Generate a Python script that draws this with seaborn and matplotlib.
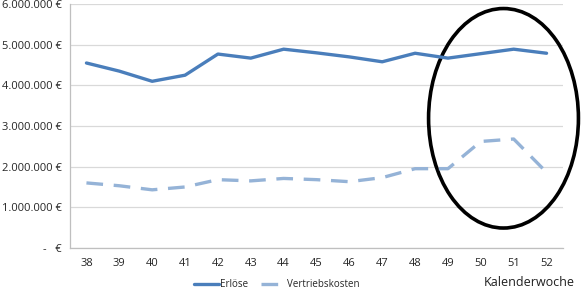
import numpy as np
import pandas as pd
import matplotlib
matplotlib.use("Agg")
import matplotlib.pyplot as plt
import seaborn as sns
from matplotlib.patches import Ellipse
from matplotlib.ticker import FuncFormatter, FixedLocator

# chart data
weeks = [38, 39, 40, 41, 42, 43, 44, 45, 46, 47, 48, 49, 50, 51, 52]
erloese = [4550000, 4350000, 4100000, 4250000, 4770000, 4670000, 4890000, 4800000,
           4700000, 4580000, 4790000, 4670000, 4780000, 4890000, 4790000]
vertriebskosten = [1600000, 1530000, 1430000, 1500000, 1680000, 1650000, 1710000, 1680000,
                   1630000, 1730000, 1950000, 1950000, 2620000, 2680000, 1860000]
series_names = ["Erlöse", "Vertriebskosten"]

df = pd.DataFrame({
    "week": weeks * 2,
    "value": erloese + vertriebskosten,
    "series": [series_names[0]] * len(weeks) + [series_names[1]] * len(weeks),
})

sns.set_style("white")
plt.rcParams["font.family"] = ["Open Sans", "DejaVu Sans"]

fig = plt.figure(figsize=(5.81, 2.90), dpi=100)
ax = fig.add_axes([0.1205, 0.145, 0.8485, 0.841])

colors = {"Erlöse": "#4A7EBB", "Vertriebskosten": "#95B3D7"}
sns.lineplot(data=df, x="week", y="value", hue="series", palette=colors,
             legend=False, ax=ax, linewidth=2.4)
ax.lines[1].set_dashes([5, 3.2])

ax.set_xlim(37.5, 52.5)
ax.set_ylim(0, 6000000)
ax.set_xticks(weeks)
ax.xaxis.set_minor_locator(FixedLocator(np.arange(37.5, 53, 1)))
ax.tick_params(axis="x", which="major", length=0, pad=7, labelsize=8, colors="#262626")
ax.tick_params(axis="x", which="minor", length=4, color="#BFBFBF", direction="out")
ax.set_yticks(np.arange(0, 6000001, 1000000))
ax.tick_params(axis="y", length=4, color="#BFBFBF", labelsize=8, pad=2, colors="#262626")


def euro(v, pos):
    if v == 0:
        return "-   €"
    return f"{int(v):,}".replace(",", ".") + " €"


ax.yaxis.set_major_formatter(FuncFormatter(euro))
ax.grid(axis="y", color="#D9D9D9", linewidth=0.9)
ax.set_axisbelow(True)
for side in ["top", "right"]:
    ax.spines[side].set_visible(False)
for side in ["left", "bottom"]:
    ax.spines[side].set_color("#BFBFBF")
    ax.spines[side].set_linewidth(0.9)
ax.set_xlabel("")
ax.set_ylabel("")

# highlight ellipse
ax.add_patch(Ellipse((50.69, 3190000), 4.56, 5400000, fill=False,
                     edgecolor="black", linewidth=2.6, clip_on=False))

# legend
h1, = ax.plot([], [], color=colors["Erlöse"], linewidth=2.4)
h2, = ax.plot([], [], color=colors["Vertriebskosten"], linewidth=2.4, dashes=[5, 3.2])
fig.legend([h1, h2], series_names, loc="center", bbox_to_anchor=(0.476, 0.018),
           ncol=2, frameon=False, fontsize=7, handlelength=2.6, columnspacing=1.3,
           handletextpad=0.1, labelcolor="#262626")

fig.text(0.99, 0.025, "Kalenderwoche", ha="right", va="center", fontsize=9, color="#202020")

fig.savefig("out.png", dpi=100)
